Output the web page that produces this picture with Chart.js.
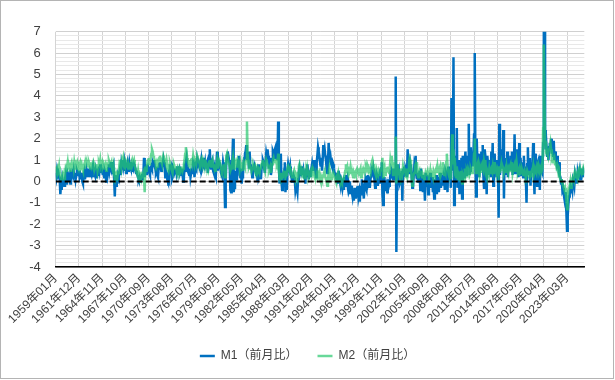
<!DOCTYPE html>
<html><head><meta charset="utf-8">
<script src="https://cdn.jsdelivr.net/npm/chart.js@4.4.1/dist/chart.umd.min.js"></script>
<style>
html,body{margin:0;padding:0;background:#fff;}
#wrap{position:relative;width:615px;height:380px;}
#frame{position:absolute;left:0;top:0;width:614px;height:379px;box-sizing:border-box;border:1px solid #b4b4b4;pointer-events:none;}
canvas{display:block;}
</style></head><body>
<div id="wrap"><canvas id="c" width="615" height="380"></canvas><div id="frame"></div></div>
<script>
const startYear = 1959;
const tickEvery = 35;
const seriesNames = ['M1（前月比）', 'M2（前月比）'];

// M1 month-on-month change (%), Jan 1959 - May 2025, one row per year
const m1Values = [
 0.4, 0.2, 0.5, 0.3, 0.4, 0.2, 0.1, -0.6, -0.2, -0.4, 0.1, -0.1,
 0.0, -0.2, 0.1, 0.3, -0.1, 0.2, 0.4, 0.3, 0.0, 0.2, -0.1, 0.3,
 0.2, 0.4, 0.3, 0.5, 0.2, 0.4, 0.1, 0.3, 0.5, 0.4, 0.3, 0.5,
 0.2, 0.3, 0.1, 0.4, 0.0, -0.1, 0.2, 0.4, 0.1, 0.3, 0.5, 0.2,
 0.4, 0.3, 0.6, 0.2, 0.5, 0.4, 0.3, 0.5, 0.2, 0.6, 0.4, 0.3,
 0.5, 0.2, 0.6, 0.4, 0.3, 0.7, 0.5, 0.8, 0.4, 0.6, 0.5, 0.3,
 0.6, 0.2, 0.5, 0.4, 0.0, 0.5, 0.3, 0.6, 0.8, 0.5, 0.7, 0.6,
 0.9, 0.4, 0.7, 0.8, 0.1, -0.7, 0.3, -0.2, 0.2, -0.1, 0.3, 0.2,
 0.4, 0.6, 0.3, 0.8, 0.6, 1.0, 0.7, 0.9, 0.5, 0.7, 0.4, 0.6,
 0.8, 0.5, 0.6, 0.9, 0.7, 0.6, 0.9, 0.5, 0.7, 0.6, 0.8, 0.7,
 0.6, 0.4, 0.5, 0.3, 0.2, 0.1, 0.2, 0.0, 0.1, 0.2, 0.1, 0.3,
 0.3, 1.1, 0.2, 0.8, 0.5, 0.3, 0.6, 0.7, 0.6, 0.4, 0.3, 0.6,
 0.7, 0.6, 0.9, 0.8, 1.0, 0.7, 0.6, 0.4, 0.5, 0.3, 0.2, 0.6,
 0.8, 0.9, 0.7, 0.5, 0.6, 0.8, 1.0, 0.7, 0.9, 0.2, 0.5, 0.4,
 0.1, 0.0, -0.2, 0.5, 0.8, 0.6, 0.7, 0.1, 0.2, 0.6, 0.5, 0.4,
 0.5, 0.6, 0.4, 0.7, 0.3, 0.5, 0.6, 0.4, 0.5, 0.3, 0.6, 0.4,
 0.0, 0.2, 0.6, 0.5, 0.9, 1.1, 0.7, 0.5, 0.4, 0.3, 0.6, 0.2,
 0.4, 0.5, 0.6, 0.9, 0.8, 0.2, 0.5, 0.7, 0.6, 1.0, 0.8, 0.9,
 0.7, 0.6, 0.8, 1.0, 0.5, 0.6, 1.1, 0.8, 0.7, 0.9, 0.6, 0.8,
 0.9, 0.4, 0.6, 1.2, 1.5, 0.8, 0.6, 0.9, 1.0, 0.5, 0.4, 0.6,
 0.3, 0.2, 0.8, 1.4, 0.5, 1.0, 0.9, 0.8, 0.6, 0.4, 0.3, 0.5,
 0.9, 0.7, 0.2, -1.2, 0.1, 0.9, 1.2, 1.4, 1.2, 1.0, 0.8, -0.4,
 -0.5, 0.4, 1.0, 2.0, -0.5, -0.3, 0.2, 0.5, 0.1, 0.6, 0.8, 1.0,
 1.2, 0.3, 0.2, 0.6, -0.1, 0.2, 0.3, 0.9, 1.1, 1.3, 1.4, 1.7,
 1.0, 1.3, 1.2, 0.6, 1.4, 0.7, 0.8, 0.5, 0.2, 0.4, 0.6, 0.5,
 0.7, 0.6, 0.3, 0.5, 0.0, 0.8, 0.2, 0.3, 0.4, 0.1, 0.6, 0.8,
 1.0, 0.9, 0.6, 0.4, 0.9, 1.3, 1.1, 1.5, 1.2, 0.6, 0.8, 1.1,
 0.3, 0.5, 1.0, 1.4, 1.3, 1.1, 1.5, 1.6, 1.1, 1.2, 1.0, 2.8,
 0.9, -0.1, 0.4, 1.3, 0.0, -0.4, 0.1, 0.3, -0.1, 0.9, -0.5, 0.2,
 -0.4, 0.5, 0.8, 0.6, 0.5, 0.7, 0.3, 0.2, 0.0, 0.1, 0.3, 0.2,
 0.1, -0.4, -0.2, -0.3, -0.5, 0.1, 0.4, 0.6, 0.3, 0.7, 0.4, 0.5,
 0.3, 0.5, 0.2, 0.4, -0.1, 0.6, 0.2, 0.8, 0.5, 0.1, 0.3, 0.4,
 0.2, 0.6, 0.8, 0.5, 0.7, 1.0, 0.6, 0.5, 0.2, 0.9, 1.2, 1.6,
 1.4, 1.2, 0.9, 0.7, 1.1, 0.5, 1.0, 1.7, 1.3, 1.5, 1.2, 1.0,
 0.6, 0.4, 0.8, 1.8, 1.2, 0.9, 1.1, 0.8, 0.7, 0.9, 0.8, 0.6,
 0.4, 0.3, 0.2, 0.1, 0.4, -0.1, 0.5, 0.2, 0.0, -0.2, 0.1, 0.0,
 -0.3, -0.1, -0.4, 0.2, -0.2, 0.3, 0.1, 0.2, -0.3, -0.5, -0.4, 0.0,
 -0.6, -0.2, -0.5, -0.7, -0.4, -0.9, -0.3, -0.6, -0.8, -0.5, -0.3, -0.2,
 -0.7, -0.5, -0.95, -0.2, -0.6, 0.1, -0.3, -0.4, -0.8, -0.2, 0.0, -0.3,
 -0.4, 0.2, 0.3, -0.1, 0.0, -0.3, 0.1, 0.3, 0.5, 0.4, 0.6, 0.3,
 0.1, -0.3, 0.2, 0.4, 0.3, -0.2, 0.0, 0.2, -0.1, 0.1, 0.6, 0.9,
 -0.6, -1.1, -0.3, 0.2, -0.4, -0.2, -0.1, -0.5, 0.1, -0.3, -0.2, 0.0,
 0.3, 0.2, 0.5, 0.4, 0.1, 0.6, 0.3, 0.2, 4.9, -3.3, 0.5, 0.8,
 0.2, 0.4, -0.1, 0.0, 0.3, 0.5, -0.9, 0.6, 0.2, 0.7, 0.3, 0.6,
 0.5, 0.2, 1.5, 0.4, 0.9, 1.0, 0.6, 0.8, 0.2, -0.3, 0.4, 0.2,
 0.7, 0.5, 1.2, 0.3, 0.1, 0.4, 0.0, 0.2, 0.5, -0.4, 0.6, 0.1,
 0.3, -0.5, -0.1, 0.0, -0.9, 0.4, -0.2, 0.3, 0.1, -0.6, -0.3, 0.2,
 0.4, -0.3, -0.1, 0.2, -0.5, -0.2, -0.8, 0.1, -0.4, 0.3, -0.6, 0.0,
 0.2, -0.5, 0.1, 0.4, -0.3, -0.1, 0.3, -0.2, 0.2, 0.0, -0.4, 0.5,
 0.4, 0.5, -0.5, 0.7, 0.1, 0.3, 0.5, -0.3, 3.9, 1.5, 0.5, 5.8,
 -1.1, 0.6, 1.2, 0.5, 2.5, -0.3, 0.4, 1.0, -0.6, 0.8, 0.3, 1.1,
 -0.8, 1.2, 0.4, 0.2, 0.9, 1.4, 0.3, 0.6, 1.2, 0.8, 2.7, 0.3,
 0.5, 1.6, 0.8, 1.1, 0.7, 1.3, 2.2, 6.0, 0.9, -0.7, 2.0, 0.9,
 1.3, 0.6, 0.2, 1.1, 0.5, 1.4, 0.8, 1.7, 0.3, -0.3, 1.5, 1.2,
 0.4, -0.6, 1.2, 0.8, 0.3, 1.0, 0.6, 0.2, 1.4, 0.5, 1.8, -0.2,
 0.9, 1.3, 0.4, 0.7, 0.2, 1.0, 0.5, -1.7, 2.7, 0.3, 0.8, 1.5,
 0.6, 1.0, 2.4, -0.8, 1.1, 0.5, 0.9, 0.3, 1.4, 0.2, 0.7, 1.0,
 0.5, 1.2, 0.8, 1.4, 0.3, 0.9, 0.6, 2.2, 0.4, 1.0, 0.7, 1.5,
 0.8, 0.2, 1.8, 0.5, 1.1, 0.3, 0.9, 0.6, 0.2, 1.2, 0.4, 0.7,
 0.1, -1.0, 0.8, 1.6, 0.3, 0.5, 1.1, -0.2, 0.6, 0.4, 0.9, 1.8,
 0.3, -0.6, 1.3, 0.7, 0.4, -0.2, 0.9, 1.0, 0.5, -0.4, 1.2, 0.6,
 0.6, 0.4, 1.8, 2.2, 70.0, 2.4, 1.5, 1.7, 1.2, 1.4, 1.0, 1.6,
 1.8, 1.5, 2.0, 1.3, 1.6, 1.2, 1.9, 1.0, 1.4, 1.1, 0.9, 1.2,
 0.8, 0.6, 0.9, 0.3, 0.2, -0.1, 0.1, -0.4, -0.3, -0.6, -0.8, -0.5,
 -1.0, -1.4, -2.3, -1.6, -1.1, -0.7, -0.6, -0.3, -0.5, -0.2, -0.4, 0.1,
 0.0, -0.2, 0.3, 0.1, 0.2, -0.1, 0.4, 0.2, 0.3, 0.5, 0.1, 0.4,
 0.3, 0.6, 0.2, 0.5, 0.4
];

// M2 month-on-month change (%), Jan 1959 - May 2025, one row per year
const m2Values = [
 0.7, 0.5, 0.6, 0.4, 0.5, 0.7, 0.3, 0.2, 0.1, 0.2, 0.3, 0.1,
 0.2, 0.4, 0.3, 0.6, 0.5, 0.7, 0.9, 0.6, 0.8, 0.7, 0.5, 0.8,
 0.9, 0.7, 0.8, 0.6, 0.9, 0.7, 0.8, 0.6, 0.7, 0.9, 0.8, 0.7,
 0.8, 0.9, 0.7, 0.8, 0.6, 0.5, 0.7, 0.8, 0.6, 0.9, 0.8, 0.9,
 0.8, 0.7, 0.9, 0.8, 0.6, 0.9, 0.7, 0.8, 0.7, 0.9, 0.8, 0.6,
 0.7, 0.6, 0.8, 0.5, 0.7, 0.9, 0.8, 1.0, 0.7, 0.8, 0.9, 0.7,
 0.8, 0.6, 0.7, 0.8, 0.5, 0.9, 0.7, 0.8, 1.0, 0.9, 0.7, 0.8,
 0.9, 0.6, 0.5, 0.7, 0.3, 0.2, 0.3, 0.1, 0.3, 0.2, 0.4, 0.5,
 0.8, 0.7, 1.0, 0.7, 1.0, 0.9, 1.1, 0.9, 0.8, 0.9, 0.7, 0.8,
 0.7, 0.6, 0.8, 0.7, 0.6, 0.8, 0.9, 1.0, 0.8, 0.9, 1.0, 0.8,
 0.6, 0.5, 0.4, 0.3, 0.5, 0.2, 0.1, 0.3, 0.2, 0.3, 0.2, 0.3,
 0.4, 0.2, -0.5, 0.7, 0.5, 0.6, 0.9, 1.0, 1.1, 0.8, 0.9, 1.1,
 1.3, 1.5, 1.4, 1.2, 1.1, 1.0, 0.9, 0.8, 0.9, 0.7, 0.8, 1.0,
 1.1, 1.2, 1.0, 0.9, 0.8, 1.0, 1.2, 1.1, 1.0, 0.9, 0.8, 1.0,
 0.8, 0.6, 0.5, 0.7, 0.9, 0.8, 0.6, 0.5, 0.4, 0.7, 0.8, 0.7,
 0.6, 0.7, 0.5, 0.6, 0.4, 0.5, 0.6, 0.4, 0.5, 0.6, 0.7, 0.5,
 0.6, 0.8, 1.0, 1.3, 1.6, 1.4, 1.1, 0.9, 0.8, 0.7, 1.0, 0.8,
 1.0, 1.1, 0.9, 1.2, 1.0, 0.8, 1.0, 1.1, 0.9, 1.2, 1.1, 1.0,
 0.9, 0.8, 0.9, 1.0, 0.8, 0.7, 1.0, 0.9, 0.8, 0.9, 0.7, 0.8,
 0.7, 0.6, 0.7, 0.9, 1.0, 0.8, 0.7, 0.9, 1.0, 0.8, 0.7, 0.6,
 0.5, 0.6, 0.8, 1.0, 0.6, 0.9, 1.0, 0.9, 0.8, 0.6, 0.5, 0.6,
 0.7, 0.8, 0.5, 0.2, 0.7, 1.2, 1.3, 1.1, 0.9, 0.8, 0.8, 0.5,
 0.6, 0.7, 0.9, 1.1, 0.7, 0.6, 0.8, 0.9, 0.7, 0.8, 1.0, 0.9,
 0.8, 0.6, 0.9, 0.7, 0.6, 0.7, 0.5, 0.9, 0.8, 0.7, 0.9, 1.0,
 2.8, 1.3, 0.9, 0.7, 0.8, 0.6, 0.7, 0.5, 0.6, 0.8, 0.7, 0.6,
 0.5, 0.7, 0.6, 0.5, 0.6, 0.4, 0.5, 0.4, 0.6, 0.7, 0.8, 0.9,
 1.0, 0.8, 0.6, 0.5, 0.8, 1.0, 0.9, 0.8, 0.7, 0.5, 0.6, 0.7,
 0.4, 0.6, 0.8, 1.0, 1.1, 0.9, 1.0, 1.0, 0.9, 0.8, 0.9, 1.3,
 0.5, 0.2, 0.3, 0.4, 0.1, 0.2, 0.3, 0.4, 0.3, 0.5, 0.2, 0.3,
 0.4, 0.6, 0.7, 0.6, 0.5, 0.6, 0.4, 0.3, 0.2, 0.3, 0.4, 0.5,
 0.3, 0.1, 0.3, 0.2, 0.1, 0.4, 0.7, 0.8, 0.6, 0.5, 0.6, 0.5,
 0.4, 0.5, 0.3, 0.4, 0.1, 0.5, 0.3, 0.6, 0.4, 0.2, 0.3, 0.4,
 0.2, 0.5, 0.6, 0.4, 0.5, 0.3, 0.2, 0.1, 0.2, 0.3, 0.2, 0.4,
 0.3, 0.4, 0.1, 0.0, 0.2, 0.1, 0.2, 0.3, 0.4, 0.5, 0.2, 0.1,
 0.0, -0.2, 0.1, 0.4, 0.6, 0.2, 0.3, 0.1, 0.2, 0.3, 0.4, 0.3,
 0.2, 0.1, 0.0, 0.2, 0.3, 0.0, 0.3, 0.1, 0.0, -0.1, 0.1, 0.0,
 0.0, 0.1, 0.2, 0.3, 0.5, 0.8, 0.6, 0.7, 0.4, 0.3, 0.4, 0.5,
 0.7, 0.5, 0.6, 0.3, 0.2, 0.4, 0.3, 0.4, 0.3, 0.5, 0.6, 0.5,
 0.4, 0.3, 0.5, 0.6, 0.2, 0.4, 0.5, 0.6, 0.5, 0.4, 0.6, 0.7,
 0.6, 0.8, 0.7, 0.5, 0.6, 0.5, 0.4, 0.6, 0.9, 1.0, 0.8, 0.7,
 0.5, 0.4, 0.3, 0.6, 0.5, 0.4, 0.5, 0.3, 0.4, 0.5, 0.6, 0.8,
 1.1, 0.2, 0.6, 0.7, 0.3, 0.4, 0.5, 0.6, 0.7, 0.5, 0.4, 0.6,
 1.0, 0.8, 1.2, 0.9, 0.3, 0.9, 0.7, 0.6, 2.1, -0.1, 0.7, 0.8,
 0.3, 0.6, 0.2, 0.1, 0.5, 0.6, 0.4, 0.7, 0.5, 0.6, 0.5, 0.4,
 0.5, 0.6, 0.3, 0.5, 0.9, 1.1, 1.0, 0.7, 0.2, -0.2, 0.1, 0.3,
 0.4, 0.7, 0.8, 0.6, 0.9, 0.3, 0.2, 0.4, 0.5, 0.3, 0.5, 0.3,
 0.2, 0.3, 0.2, 0.1, 0.2, 0.4, 0.3, 0.4, 0.5, 0.3, 0.2, 0.3,
 0.5, 0.2, 0.4, 0.3, 0.2, 0.5, 0.4, 0.3, 0.5, 0.6, 0.4, 0.7,
 0.5, 0.4, 0.6, 0.7, 0.3, 0.4, 0.5, 0.9, 0.4, 0.3, 0.5, 0.4,
 0.9, 1.3, 0.8, 0.5, 0.3, 0.2, 0.4, 0.1, 1.0, 2.2, 0.8, 1.5,
 1.1, 0.5, 0.6, 0.2, 0.7, 0.4, 0.1, 0.3, 0.2, 0.4, 0.5, 0.1,
 -0.1, 0.3, 0.2, 0.1, 0.6, 0.2, 0.3, 0.5, 0.4, 0.6, 0.5, 0.3,
 0.4, 0.6, 0.5, 0.4, 0.6, 0.7, 1.3, 2.0, 0.7, 0.4, 0.6, 0.8,
 0.9, 0.5, 0.3, 0.6, 0.4, 0.7, 0.8, 0.6, 0.5, 0.9, 0.7, 1.0,
 0.3, 0.2, 0.5, 0.4, 0.3, 0.6, 0.4, 0.5, 0.6, 0.5, 0.7, 0.4,
 0.6, 0.9, 0.5, 0.7, 0.4, 0.6, 0.5, 0.3, 0.7, 0.4, 0.6, 0.8,
 0.5, 0.7, 0.6, 0.4, 0.5, 0.6, 0.4, 0.7, 0.5, 0.4, 0.6, 0.5,
 0.7, 0.8, 0.5, 0.9, 0.4, 0.6, 0.7, 0.8, 0.5, 0.6, 0.9, 0.6,
 0.4, 0.5, 0.6, 0.3, 0.5, 0.4, 0.6, 0.5, 0.3, 0.4, 0.5, 0.3,
 0.2, 0.3, 0.5, 0.4, 0.3, 0.4, 0.5, 0.3, 0.4, 0.2, 0.5, 0.7,
 0.3, 0.4, 0.6, 0.5, 0.4, 0.7, 0.6, 0.8, 0.7, 0.5, 0.6, 0.7,
 0.5, 0.6, 2.5, 6.4, 3.9, 1.9, 1.5, 1.6, 1.3, 1.2, 1.4, 1.5,
 1.6, 1.8, 1.5, 1.1, 1.2, 0.9, 1.0, 1.1, 0.8, 0.9, 0.7, 0.8,
 0.6, 0.4, 0.5, 0.2, 0.1, 0.0, 0.1, -0.1, -0.2, -0.3, -0.4, -0.3,
 -0.5, -0.8, -1.3, -0.9, -0.4, -0.3, -0.2, 0.0, -0.3, -0.1, 0.1, 0.2,
 0.1, 0.3, 0.2, 0.4, 0.3, 0.2, 0.4, 0.5, 0.3, 0.4, 0.6, 0.5,
 0.4, 0.5, 0.3, 0.6, 0.5
];

// Category labels: one per month
const categories = [];
for (let i = 0; i < m1Values.length; i++) {
  const y = startYear + Math.floor(i / 12);
  const m = (i % 12) + 1;
  categories.push(y + '年' + String(m).padStart(2, '0') + '月');
}
const zeroLine = categories.map(() => 0);

const isWhole = v => Math.abs(v - Math.round(v)) < 1e-6;

Chart.defaults.font.family = '"Liberation Sans", Arial, "Noto Sans CJK JP", sans-serif';
Chart.defaults.color = '#404040';

new Chart(document.getElementById('c'), {
  type: 'line',
  data: {
    labels: categories,
    datasets: [
      { label: seriesNames[0], data: m1Values, borderColor: '#0070C0', backgroundColor: '#0070C0',
        borderWidth: 2.5, pointRadius: 0, tension: 0, order: 2, clip: 0 },
      { label: seriesNames[1], data: m2Values, borderColor: 'rgba(40,200,110,0.7)', backgroundColor: 'rgba(40,200,110,0.7)',
        borderWidth: 2.5, pointRadius: 0, tension: 0, order: 1, clip: 0 },
      { label: 'zero', data: zeroLine, borderColor: '#000', backgroundColor: '#000',
        borderWidth: 2, borderDash: [6, 3], pointRadius: 0, order: 0, clip: 0 }
    ]
  },
  options: {
    responsive: false,
    animation: false,
    devicePixelRatio: 1,
    layout: { padding: { top: 31.7, left: 0, right: 0, bottom: 8 } },
    plugins: {
      legend: {
        position: 'bottom',
        labels: {
          usePointStyle: true, pointStyle: 'line', pointStyleWidth: 15, padding: 20,
          font: { size: 12 }, color: '#404040',
          filter: it => it.datasetIndex < 2,
          sort: (a, b) => a.datasetIndex - b.datasetIndex
        }
      },
      tooltip: { enabled: false }
    },
    scales: {
      x: {
        type: 'category', offset: false,
        afterBuildTicks: s => { s.ticks = s.ticks.filter(t => t.value % tickEvery === 0); },
        afterFit: s => { s.height = 63; },
        ticks: { autoSkip: false, maxRotation: 45, minRotation: 45, font: { size: 12 }, color: '#404040', padding: 4 },
        grid: { color: '#d4d4d4', drawTicks: false, lineWidth: 1 },
        border: { color: '#000', width: 1.5 }
      },
      y: {
        min: -4, max: 7,
        afterFit: s => { s.width = 55.7; },
        ticks: { stepSize: 0.2, autoSkip: false, font: { size: 13 }, color: '#404040', padding: 15,
          callback: v => isWhole(v) ? String(Math.round(v)) : '' },
        grid: { drawTicks: false, color: c => isWhole(c.tick.value) ? '#d0d0d0' : '#e8e8e8' },
        border: { display: false }
      },
      y2: {
        position: 'right', display: true,
        afterFit: s => { s.width = 30.7; },
        ticks: { display: false }, grid: { display: false, drawTicks: false }, border: { display: false }
      }
    }
  }
});
</script>
</body></html>
